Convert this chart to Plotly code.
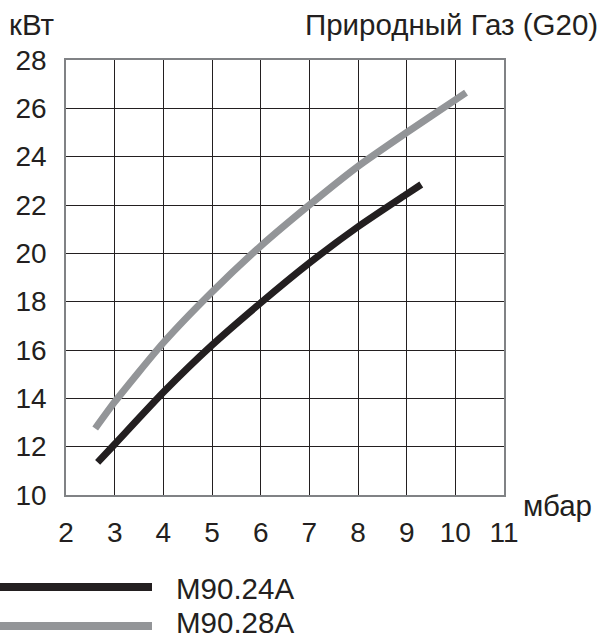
import plotly.graph_objects as go

# pressure (mbar) vs power (kW)
x_m90_24a = [2.65, 3, 4, 5, 6, 7, 8, 9, 9.3]
y_m90_24a = [11.35, 12.1, 14.25, 16.2, 17.95, 19.6, 21.1, 22.45, 22.85]

x_m90_28a = [2.6, 3, 4, 5, 6, 7, 8, 9, 10, 10.22]
y_m90_28a = [12.75, 13.85, 16.3, 18.4, 20.3, 22.0, 23.6, 25.0, 26.35, 26.65]

series_names = ["M90.24A", "M90.28A"]
series_colors = ["#231f20", "#939598"]

FONT = "Liberation Sans, Arial, sans-serif"
TXT = "#231f20"

# plot area in pixels
L, R, T, B = 66, 504, 60, 495
PW, PH = R - L, B - T

fig = go.Figure()
for xs, ys, name, color in [
    (x_m90_28a, y_m90_28a, series_names[1], series_colors[1]),
    (x_m90_24a, y_m90_24a, series_names[0], series_colors[0]),
]:
    fig.add_trace(go.Scatter(
        x=xs, y=ys, name=name, mode="lines",
        line=dict(color=color, width=7, shape="spline", smoothing=0.6),
        showlegend=False,
    ))

axis_common = dict(
    showgrid=True, gridcolor="#231f20", gridwidth=1.3,
    showline=True, linecolor="#808285", linewidth=1.5, mirror=True,
    zeroline=False, ticks="", tickfont=dict(family=FONT, size=28, color=TXT),
)
fig.update_xaxes(range=[2, 11], dtick=1, tick0=2, ticklabelstandoff=12, **axis_common)
fig.update_yaxes(range=[10, 28], dtick=2, tick0=10, ticklabelstandoff=12, **axis_common)

annotations = [
    dict(text="кВт", x=7, y=25),
    dict(text="Природный Газ (G20)", x=600, y=25, anchor="right"),
    dict(text="мбар", x=521, y=505),
    dict(text=series_names[0], x=174, y=588),
    dict(text=series_names[1], x=174, y=622),
]
for a in annotations:
    fig.add_annotation(
        text=a["text"], xref="paper", yref="paper",
        x=(a["x"] - L) / PW, y=(B - a["y"]) / PH,
        xanchor=a.get("anchor", "left"), yanchor="middle", showarrow=False,
        font=dict(family=FONT, size=29.5, color=TXT),
    )

# legend swatches
for color, ypx in zip(series_colors, [587, 626]):
    fig.add_shape(
        type="line", xref="paper", yref="paper",
        x0=(0 - L) / PW, x1=(152 - L) / PW,
        y0=(B - ypx) / PH, y1=(B - ypx) / PH,
        line=dict(color=color, width=8),
    )

fig.update_layout(
    width=606, height=640,
    margin=dict(l=L, r=606 - R, t=T, b=640 - B),
    plot_bgcolor="white", paper_bgcolor="white",
    showlegend=False,
)

fig.write_html(
    "out.html",
    config={"displayModeBar": False},
    post_script="document.body.style.margin='0';",
)
